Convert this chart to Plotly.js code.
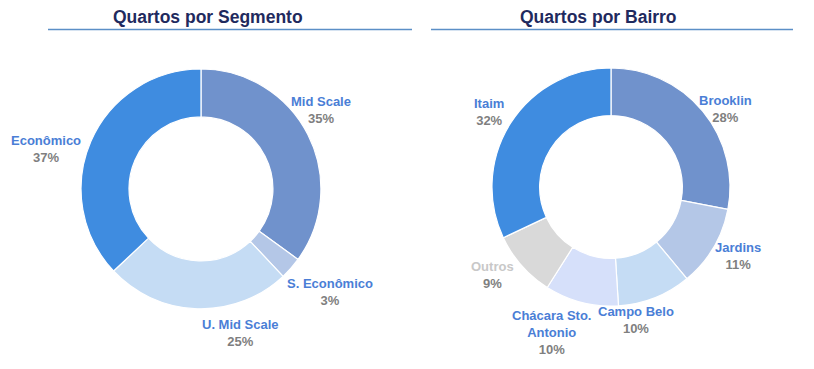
<!DOCTYPE html>
<html>
<head>
<meta charset="utf-8">
<script src="https://cdn.plot.ly/plotly-3.0.1.min.js"></script>
<style>html,body{margin:0;padding:0;background:#fff;}#chart{width:814px;height:369px;}</style>
</head>
<body>
<div id="chart"></div>
<script>
// ---- data ----
const segLabels = ['Mid Scale', 'S. Econômico', 'U. Mid Scale', 'Econômico'];
const segValues = [35, 3, 25, 37];

const bairroLabels = ['Brooklin', 'Jardins', 'Campo Belo', 'Chácara Sto.<br>Antonio', 'Outros', 'Itaim'];
const bairroValues = [28, 11, 10, 10, 9, 32];

const titles = ['Quartos por Segmento', 'Quartos por Bairro'];

// ---- styles ----
const segColors = ['#7092cc', '#b4c7e7', '#c5dcf4', '#3f8ce0'];
const segNameColors = ['#4a7ed6', '#4a7ed6', '#4a7ed6', '#4a7ed6'];
const bairroColors = ['#7092cc', '#b4c7e7', '#c5dcf4', '#d6e0fa', '#d9d9d9', '#3f8ce0'];
const bairroNameColors = ['#4a7ed6', '#4a7ed6', '#4a7ed6', '#4a7ed6', '#c8c8c8', '#4a7ed6'];
// label nudges in pixels (dx right, dy down) relative to radial anchor
const segNudge = [[-14, -11], [16.5, 4], [44, -6], [-17, 20]];
const bairroNudge = [[0, 17], [-1, -7], [-30, -5], [-22, 1.5], [-7, -10], [4, 5]];

const W = 814, H = 369;
const FONT = 'Liberation Sans, Arial, sans-serif';
const segDomain = {x: [0.0995, 0.3943], y: [0.163, 0.813]};
const bairroDomain = {x: [0.6044, 0.8968], y: [0.1707, 0.8157]};

function pieTrace(labels, values, colors, domain) {
  return {
    type: 'pie', hole: 0.6, sort: false, direction: 'clockwise', rotation: 0,
    labels: labels, values: values, textinfo: 'none', showlegend: false,
    hoverinfo: 'label+percent',
    marker: {colors: colors, line: {color: '#ffffff', width: 1.2}},
    domain: domain
  };
}

function labelAnns(labels, values, nameColors, domain, nudge) {
  const cx = (domain.x[0] + domain.x[1]) / 2 * W;
  const cy = (1 - (domain.y[0] + domain.y[1]) / 2) * H;
  const r = Math.min((domain.x[1] - domain.x[0]) * W, (domain.y[1] - domain.y[0]) * H) / 2;
  const total = values.reduce((a, b) => a + b, 0);
  let cum = 0;
  return labels.map((lab, i) => {
    const mid = (cum + values[i] / 2) / total * 2 * Math.PI;
    cum += values[i];
    const px = cx + 1.25 * r * Math.sin(mid);
    const py = cy - 1.25 * r * Math.cos(mid);
    return {
      xref: 'paper', yref: 'paper', x: px / W, y: 1 - py / H,
      xanchor: 'center', yanchor: 'middle', showarrow: false,
      xshift: nudge[i][0], yshift: -nudge[i][1],
      align: 'center',
      font: {family: FONT, size: 13},
      text: "<b><span style='color:" + nameColors[i] + "'>" + lab + "</span><br><span style='color:#7f7f7f'>" +
            Math.round(values[i] / total * 100) + "%</span></b>"
    };
  });
}

const data = [
  pieTrace(segLabels, segValues, segColors, segDomain),
  pieTrace(bairroLabels, bairroValues, bairroColors, bairroDomain)
];

const annotations = [
  {text: '<b>' + titles[0] + '</b>', x: 208 / W, y: 1 - 17 / H, xref: 'paper', yref: 'paper',
   showarrow: false, font: {family: FONT, size: 17.5, color: '#1f2a5e'}, xanchor: 'center', yanchor: 'middle'},
  {text: '<b>' + titles[1] + '</b>', x: 598.5 / W, y: 1 - 17 / H, xref: 'paper', yref: 'paper',
   showarrow: false, font: {family: FONT, size: 17.5, color: '#1f2a5e'}, xanchor: 'center', yanchor: 'middle'}
].concat(
  labelAnns(segLabels, segValues, segNameColors, segDomain, segNudge),
  labelAnns(bairroLabels, bairroValues, bairroNameColors, bairroDomain, bairroNudge)
);

const layout = {
  width: W, height: H,
  margin: {l: 0, r: 0, t: 0, b: 0},
  paper_bgcolor: '#ffffff',
  font: {family: FONT},
  annotations: annotations,
  shapes: [
    {type: 'line', xref: 'paper', yref: 'paper', x0: 48 / W, x1: 412 / W, y0: 1 - 29.5 / H, y1: 1 - 29.5 / H,
     line: {color: '#5b8fc7', width: 1.5}},
    {type: 'line', xref: 'paper', yref: 'paper', x0: 431 / W, x1: 793 / W, y0: 1 - 29.5 / H, y1: 1 - 29.5 / H,
     line: {color: '#5b8fc7', width: 1.5}}
  ]
};

Plotly.newPlot('chart', data, layout, {displayModeBar: false, staticPlot: true});
</script>
</body>
</html>
